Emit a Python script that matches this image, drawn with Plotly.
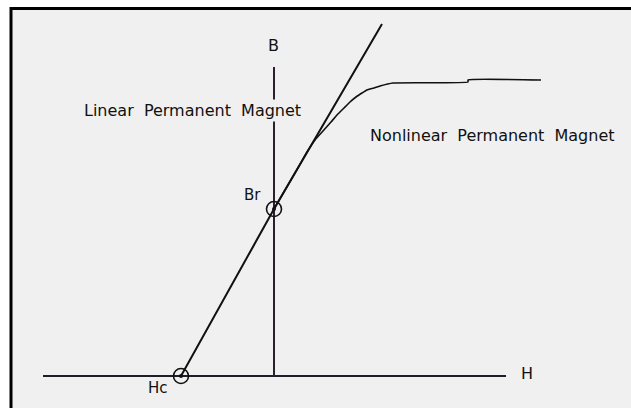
import plotly.graph_objects as go

# Data (H, B in drawing units; origin at axes intersection)
H_axis = [-231, 232]
B_axis = [0, 309]

Hc = -93
Br = 167

H_linear = [Hc, 0, 108]
B_linear = [0, Br, 352]

H_nonlinear = [0, 25, 33, 41, 49, 57, 63, 70, 76, 82, 88, 93, 100, 106, 119, 194, 194, 267]
B_nonlinear = [Br, 210, 224, 236, 245, 254, 261, 268, 274, 279, 283, 286, 288, 290, 293, 294, 296, 296]

point_H = [Hc, 0]
point_B = [0, Br]

INK = "#111111"
FONT = "DejaVu Sans"

fig = go.Figure()

# Axes drawn as lines
fig.add_trace(go.Scatter(x=H_axis, y=[0, 0], mode="lines",
                         line=dict(color="#1e1e28", width=2), hoverinfo="skip"))
fig.add_trace(go.Scatter(x=[0, 0], y=B_axis, mode="lines",
                         line=dict(color="#2a2030", width=2), hoverinfo="skip"))

# Nonlinear curve
fig.add_trace(go.Scatter(x=H_nonlinear, y=B_nonlinear, mode="lines",
                         line=dict(color=INK, width=1.6, shape="spline", smoothing=0.4),
                         hoverinfo="skip"))
# Linear line
fig.add_trace(go.Scatter(x=H_linear, y=B_linear, mode="lines",
                         line=dict(color=INK, width=2), hoverinfo="skip"))

# Circled points
fig.add_trace(go.Scatter(x=point_H, y=point_B, mode="markers",
                         marker=dict(symbol="circle-open", size=15, color=INK,
                                     line=dict(color=INK, width=1.6)),
                         hoverinfo="skip"))
fig.add_trace(go.Scatter(x=point_H, y=point_B, mode="markers",
                         marker=dict(symbol="circle", size=4, color=INK),
                         hoverinfo="skip"))

sp = " \u00a0"
annotations = [
    dict(x=-1, y=331, text="B", font=dict(size=16)),
    dict(x=253, y=3, text="H", font=dict(size=16)),
    dict(x=-116, y=-12, text="Hc", font=dict(size=15)),
    dict(x=-22, y=181, text="Br", font=dict(size=15)),
    dict(x=-82, y=266, text=f"Linear{sp}Permanent{sp}Magnet", font=dict(size=16),
         bgcolor="#f0f0f0"),
    dict(x=218, y=241, text=f"Nonlinear{sp}Permanent{sp}Magnet", font=dict(size=16)),
]
for a in annotations:
    a.update(xref="x", yref="y", showarrow=False, xanchor="center", yanchor="middle")
    a["font"].update(family=FONT, color=INK)

shapes = [
    # panel background
    dict(type="rect", xref="x", yref="y", x0=-262, x1=370, y0=-45, y1=367,
         fillcolor="#f0f0f0", line=dict(width=0), layer="below"),
    # frame top and left
    dict(type="line", xref="x", yref="y", x0=-263.5, x1=370, y0=367.5, y1=367.5,
         line=dict(color="black", width=3), layer="below"),
    dict(type="line", xref="x", yref="y", x0=-263, x1=-263, y0=-45, y1=369,
         line=dict(color="black", width=3), layer="below"),
]

fig.update_layout(
    width=631, height=408, autosize=False,
    margin=dict(l=0, r=0, t=0, b=0),
    paper_bgcolor="white", plot_bgcolor="white",
    showlegend=False,
    xaxis=dict(range=[-274, 357], visible=False, fixedrange=True),
    yaxis=dict(range=[-32, 376], visible=False, fixedrange=True),
    annotations=annotations,
    shapes=shapes,
)

fig.write_html(
    "out.html",
    config={"displayModeBar": False, "staticPlot": True},
    post_script="document.body.style.margin='0';document.body.style.overflow='hidden';",
)
